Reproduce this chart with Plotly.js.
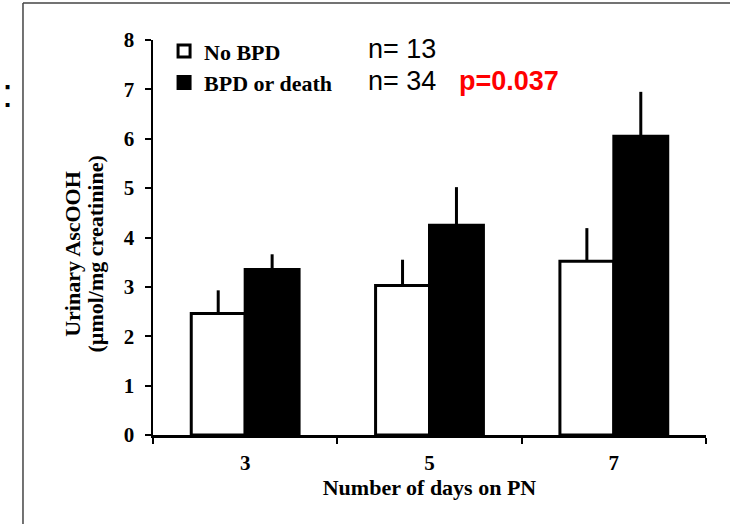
<!DOCTYPE html>
<html>
<head>
<meta charset="utf-8">
<script src="https://cdn.plot.ly/plotly-3.0.1.min.js"></script>
<style>html,body{margin:0;padding:0;background:#fff;}</style>
</head>
<body>
<div id="chart" style="width:730px;height:524px;"></div>
<script>
// Data
const days = ['3', '5', '7'];
const noBpdName = 'No BPD';
const bpdName = 'BPD or death';
const noBpdValues = [2.46, 3.03, 3.52];
const noBpdErrors = [0.47, 0.52, 0.67];
const bpdValues = [3.35, 4.25, 6.05];
const bpdErrors = [0.31, 0.77, 0.90];
const zeros = [0, 0, 0];
const nLabels = ['n= 13', 'n= 34'];
const pLabel = 'p=0.037';
const yTitleLines = ['Urinary AscOOH', '(\u00b5mol/mg creatinine)'];
const xTitle = 'Number of days on PN';
const yTicks = [0, 1, 2, 3, 4, 5, 6, 7, 8];

const serif = {family: 'Liberation Serif, Times New Roman, serif', color: '#000', weight: 'bold'};
const sans = {family: 'Liberation Sans, Arial, sans-serif', color: '#000'};

const traces = [
  {
    type: 'bar', name: noBpdName, x: days, y: noBpdValues,
    marker: {color: '#ffffff', line: {color: '#000', width: 3}},
    error_y: {type: 'data', symmetric: false, array: noBpdErrors, arrayminus: zeros,
              color: '#000', thickness: 3, width: 0}
  },
  {
    type: 'bar', name: bpdName, x: days, y: bpdValues,
    marker: {color: '#000000', line: {color: '#000', width: 3}},
    error_y: {type: 'data', symmetric: false, array: bpdErrors, arrayminus: zeros,
              color: '#000', thickness: 3, width: 0}
  }
];

const layout = {
  width: 730, height: 524,
  margin: {l: 153, r: 24, t: 40, b: 89},
  paper_bgcolor: '#fff', plot_bgcolor: '#fff',
  barmode: 'group', bargap: 0.415, bargroupgap: 0,
  showlegend: true,
  legend: {
    x: 0.02, y: 1.025, xanchor: 'left', yanchor: 'top',
    bgcolor: 'rgba(0,0,0,0)', borderwidth: 0,
    font: Object.assign({}, serif, {size: 22}),
    itemclick: false, tracegroupgap: 0
  },
  xaxis: {
    type: 'category', tickson: 'boundaries',
    showline: true, linecolor: '#000', linewidth: 2.5,
    ticks: 'outside', ticklen: 6, tickwidth: 2, tickcolor: '#000',
    showgrid: false, zeroline: false,
    tickfont: Object.assign({}, serif, {size: 21}),
    ticklabelstandoff: 7,
    title: {text: xTitle, font: Object.assign({}, serif, {size: 22}), standoff: 6}
  },
  yaxis: {
    range: [0, 8], tickvals: yTicks,
    showline: true, linecolor: '#000', linewidth: 2.5,
    ticks: 'outside', ticklen: 6, tickwidth: 2, tickcolor: '#000',
    showgrid: false, zeroline: false,
    tickfont: Object.assign({}, serif, {size: 21}),
    ticklabelstandoff: 6,
    title: {text: ''}
  },
  annotations: [
    {xref: 'paper', yref: 'paper', x: -0.147, y: 0.458, xanchor: 'center', yanchor: 'middle',
     textangle: -90, text: yTitleLines[0], showarrow: false,
     font: Object.assign({}, serif, {size: 22})},
    {xref: 'paper', yref: 'paper', x: -0.104, y: 0.458, xanchor: 'center', yanchor: 'middle',
     textangle: -90, text: yTitleLines[1], showarrow: false,
     font: Object.assign({}, serif, {size: 22})},
    {xref: 'paper', yref: 'paper', x: 0.385, y: 0.977, xanchor: 'left', yanchor: 'middle',
     text: nLabels[0], showarrow: false, font: Object.assign({}, sans, {size: 27})},
    {xref: 'paper', yref: 'paper', x: 0.385, y: 0.896, xanchor: 'left', yanchor: 'middle',
     text: nLabels[1], showarrow: false, font: Object.assign({}, sans, {size: 27})},
    {xref: 'paper', yref: 'paper', x: 0.549, y: 0.896, xanchor: 'left', yanchor: 'middle',
     text: pLabel, showarrow: false,
     font: Object.assign({}, sans, {size: 27, color: '#ff0000', weight: 'bold'})},
    {xref: 'paper', yref: 'paper', x: -0.2767, y: 0.866, xanchor: 'left', yanchor: 'middle',
     text: ':', showarrow: false, font: Object.assign({}, sans, {size: 40})}
  ],
  shapes: [
    {type: 'line', xref: 'paper', yref: 'paper', x0: -0.2351, x1: -0.2351, y0: 1.0937, y1: -0.3,
     line: {color: '#444', width: 1.5}},
    {type: 'line', xref: 'paper', yref: 'paper', x0: -0.2351, x1: 1.1, y0: 1.0937, y1: 1.0937,
     line: {color: '#444', width: 1.5}}
  ]
};

Plotly.newPlot('chart', traces, layout, {displayModeBar: false, staticPlot: true});
</script>
</body>
</html>
